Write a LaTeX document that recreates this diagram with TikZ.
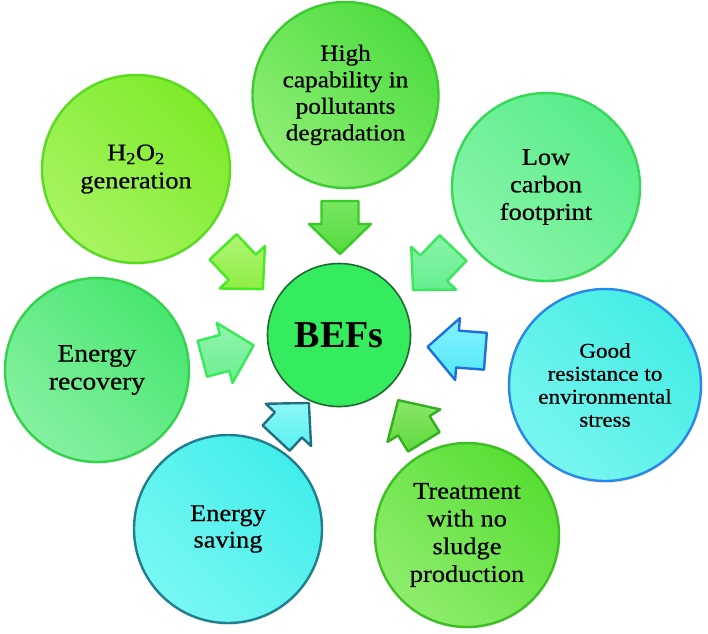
\documentclass[tikz,border=0pt]{standalone}
\usepackage{fontspec}
\setmainfont{Liberation Serif}[FakeStretch=1.1,FakeBold=0.6]
\newfontfamily\plainserif{Liberation Serif}
\usetikzlibrary{shadows}
% circle colours: D = darker (top right), L = lighter (bottom left), O = outline
\definecolor{topD}{HTML}{4EDD40}\definecolor{topL}{HTML}{8EEE74}\definecolor{topO}{HTML}{3CCB30}
\definecolor{hD}{HTML}{7EEB2A}\definecolor{hL}{HTML}{A8F462}\definecolor{hO}{HTML}{5ADB22}
\definecolor{lcD}{HTML}{58EC88}\definecolor{lcL}{HTML}{8AF5AA}\definecolor{lcO}{HTML}{36D957}
\definecolor{erD}{HTML}{48E670}\definecolor{erL}{HTML}{86F1A0}\definecolor{erO}{HTML}{33D34E}
\definecolor{grD}{HTML}{44EDE5}\definecolor{grL}{HTML}{78F6EF}\definecolor{grO}{HTML}{2A86E8}
\definecolor{esD}{HTML}{42EEEA}\definecolor{esL}{HTML}{78F7F4}\definecolor{esO}{HTML}{1F7F8F}
\definecolor{trD}{HTML}{58DE34}\definecolor{trL}{HTML}{8EED6C}\definecolor{trO}{HTML}{3DBE22}
\definecolor{befF}{HTML}{35EC5E}\definecolor{befO}{HTML}{1E6A30}
% arrow colours
\definecolor{atD}{HTML}{55DA3E}\definecolor{atL}{HTML}{78E662}\definecolor{atO}{HTML}{35CC25}
\definecolor{ahD}{HTML}{8EEE44}\definecolor{ahL}{HTML}{B0F574}\definecolor{ahO}{HTML}{45EB22}
\definecolor{alD}{HTML}{66EE90}\definecolor{alL}{HTML}{8AF4AA}\definecolor{alO}{HTML}{38E85A}
\definecolor{arD}{HTML}{6CEE90}\definecolor{arL}{HTML}{92F4AE}\definecolor{arO}{HTML}{36EA58}
\definecolor{agD}{HTML}{52E8F8}\definecolor{agL}{HTML}{86F2FF}\definecolor{agO}{HTML}{1F6DDF}
\definecolor{asD}{HTML}{58F0F0}\definecolor{asL}{HTML}{8CF7F7}\definecolor{asO}{HTML}{236F80}
\definecolor{atrD}{HTML}{5EDA3C}\definecolor{atrL}{HTML}{8AE66A}\definecolor{atrO}{HTML}{32B020}
\begin{document}
\begin{tikzpicture}[x=1pt,y=-1pt,
  bub/.style={circle, inner sep=0pt, line width=2.4pt, align=center,
    font=\fontsize{24}{27}\selectfont,
    drop shadow={shadow xshift=1pt, shadow yshift=-2pt, opacity=0.12}},
  tilt/.style={shading angle=-45},
  arrowpaint/.style={},
  pics/barrow/.style={code={
    \path[arrowpaint, line width=2.4pt, line join=round,
      drop shadow={shadow xshift=0.8pt, shadow yshift=-0.8pt, opacity=0.22}]
      (-#1/2,-18.5) -- (#1/2-30,-18.5) -- (#1/2-30,-31) -- (#1/2,0)
      -- (#1/2-30,31) -- (#1/2-30,18.5) -- (-#1/2,18.5) -- cycle;
  }}]
\useasboundingbox (0,0) rectangle (708,633);

% outer circles
\node[bub, minimum size=186pt, top color=topD, bottom color=topL, tilt, draw=topO,
  font=\fontsize{23}{26.5}\selectfont] (high) at (345.5,95)
  {High\\capability in\\pollutants\\degradation};
\node[bub, minimum size=188pt, top color=hD, bottom color=hL, tilt, draw=hO,
  font=\fontsize{24}{28}\selectfont] (h2o2) at (136,169)
  {H\textsubscript{2}O\textsubscript{2}\\generation};
\node[bub, minimum size=188pt, top color=lcD, bottom color=lcL, tilt, draw=lcO,
  font=\fontsize{24}{27.5}\selectfont] (lowc) at (546,187)
  {Low\\carbon\\footprint};
\node[bub, minimum size=184pt, top color=erD, bottom color=erL, tilt, draw=erO,
  font=\fontsize{25}{28}\selectfont] (recov) at (97,370)
  {Energy\\recovery};
\node[bub, minimum size=192pt, top color=grD, bottom color=grL, tilt, draw=grO,
  font=\fontsize{21}{23}\selectfont] (good) at (605,385)
  {Good\\resistance to\\environmental\\stress};
\node[bub, minimum size=188pt, top color=esD, bottom color=esL, tilt, draw=esO,
  font=\fontsize{24}{26.5}\selectfont] (saving) at (228,529)
  {Energy\\saving};
\node[bub, minimum size=184pt, top color=trD, bottom color=trL, tilt, draw=trO,
  font=\fontsize{24}{27.7}\selectfont] (treat) at (467,535)
  {Treatment\\with no\\sludge\\production};

% centre
\node[circle, inner sep=0pt, minimum size=143pt, fill=befF, draw=befO, line width=1.6pt,
  drop shadow={shadow xshift=1pt, shadow yshift=-2pt, opacity=0.12},
  font=\plainserif\bfseries\fontsize{38}{40}\selectfont] (bef) at (339,335) {BEFs};

% block arrows pointing to the centre
\pic[rotate=-90, arrowpaint/.style={top color=atL, bottom color=atD, draw=atO}]
  (aHigh) at (340,227.5) {barrow=53};
\pic[rotate=-46.8, arrowpaint/.style={top color=ahL, bottom color=ahD, draw=ahO}]
  (aH2O2) at (243,268) {barrow=58};
\pic[rotate=-133.6, arrowpaint/.style={top color=alL, bottom color=alD, draw=alO}]
  (aLowc) at (433,269) {barrow=58};
\pic[rotate=14.7, arrowpaint/.style={top color=arL, bottom color=arD, draw=arO}]
  (aRecov) at (228,352) {barrow=53};
\pic[rotate=175.6, arrowpaint/.style={top color=agL, bottom color=agD, draw=agO}]
  (aGood) at (456.5,349) {barrow=58};
\pic[rotate=47, arrowpaint/.style={top color=asL, bottom color=asD, draw=asO}]
  (aSaving) at (292.5,420.5) {barrow=48};
\pic[rotate=121.6, arrowpaint/.style={top color=atrL, bottom color=atrD, draw=atrO}]
  (aTreat) at (411,421) {barrow=49};
\end{tikzpicture}
\end{document}
